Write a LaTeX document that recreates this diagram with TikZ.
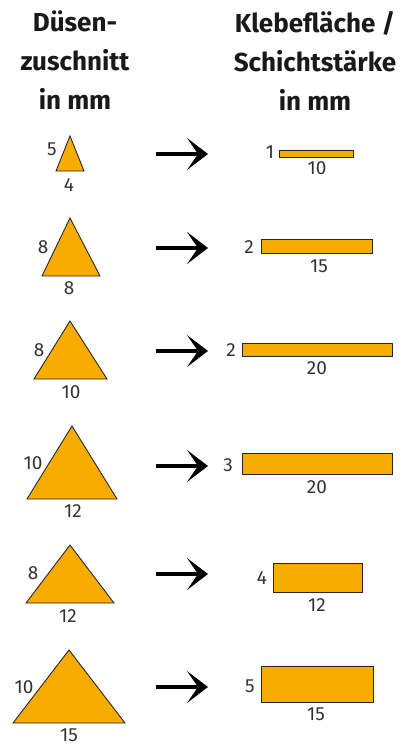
\documentclass[tikz,border=0pt]{standalone}
\usepackage{fontspec}
\setmainfont{Fira Sans}
\usetikzlibrary{arrows.meta}

\definecolor{glueorange}{RGB}{249,172,0}

\begin{document}
\begin{tikzpicture}[%
    x=1pt, y=-1pt,              % work in pixels of the sketch, y downwards
    ]

\tikzset{
  glue/.style={draw=black!85, fill=glueorange, line width=0.9pt, line join=miter},
  dim/.style={inner sep=0pt, text=black!80, font=\fontsize{19}{19}\selectfont},
  head/.style={inner sep=0pt, align=center, anchor=north, text=black!90,
               font=\bfseries\fontsize{26}{39}\selectfont},
  flow/.style={line width=3.5pt, -{Stealth[length=21pt, width=32pt, inset=11pt]}}
  };

\useasboundingbox (0,0) rectangle (409,745);

% HEADINGS
\node[head] (nozzle) at (75,11) { Düsen-\\zuschnitt\\in mm };
\node[head] (bead) at (315,11) { Klebefläche /\\Schichtstärke\\in mm };

% ROW 1
\draw[glue] (56,171) coordinate (t1l) -- (70,136) coordinate (t1a) -- (84,171) coordinate (t1r) -- cycle;
\node[dim] (t1s) at (52,149) {5};
\node[dim] (t1b) at (69,185) {4};
\coordinate (f1s) at (156,154); \coordinate (f1e) at (208,154);
\draw[flow] (f1s) -- (f1e);
\draw[glue] (279,150) coordinate (r1a) rectangle (353,157) coordinate (r1b);
\node[dim] (r1h) at (270,152) {1};
\node[dim] (r1w) at (317,168) {10};

% ROW 2
\draw[glue] (42,276) coordinate (t2l) -- (70,218) coordinate (t2a) -- (100,276) coordinate (t2r) -- cycle;
\node[dim] (t2s) at (43,247) {8};
\node[dim] (t2b) at (69,288) {8};
\coordinate (f2s) at (156,248); \coordinate (f2e) at (208,248);
\draw[flow] (f2s) -- (f2e);
\draw[glue] (261,239) coordinate (r2a) rectangle (372,253) coordinate (r2b);
\node[dim] (r2h) at (249,247) {2};
\node[dim] (r2w) at (319,266) {15};

% ROW 3
\draw[glue] (34,379) coordinate (t3l) -- (70,321) coordinate (t3a) -- (107,379) coordinate (t3r) -- cycle;
\node[dim] (t3s) at (39,350) {8};
\node[dim] (t3b) at (71,392) {10};
\coordinate (f3s) at (156,351); \coordinate (f3e) at (208,351);
\draw[flow] (f3s) -- (f3e);
\draw[glue] (242,343) coordinate (r3a) rectangle (392,356) coordinate (r3b);
\node[dim] (r3h) at (231,350) {2};
\node[dim] (r3w) at (317,368) {20};

% ROW 4
\draw[glue] (27,499) coordinate (t4l) -- (72,426) coordinate (t4a) -- (117,499) coordinate (t4r) -- cycle;
\node[dim] (t4s) at (33,463) {10};
\node[dim] (t4b) at (73,511) {12};
\coordinate (f4s) at (156,466); \coordinate (f4e) at (208,466);
\draw[flow] (f4s) -- (f4e);
\draw[glue] (242,453) coordinate (r4a) rectangle (392,474) coordinate (r4b);
\node[dim] (r4h) at (228,465) {3};
\node[dim] (r4w) at (317,487) {20};

% ROW 5
\draw[glue] (26,603) coordinate (t5l) -- (70,545) coordinate (t5a) -- (114,603) coordinate (t5r) -- cycle;
\node[dim] (t5s) at (33,573) {8};
\node[dim] (t5b) at (68,616) {12};
\coordinate (f5s) at (156,574); \coordinate (f5e) at (208,574);
\draw[flow] (f5s) -- (f5e);
\draw[glue] (273,563) coordinate (r5a) rectangle (362,592) coordinate (r5b);
\node[dim] (r5h) at (262,578) {4};
\node[dim] (r5w) at (317,605) {12};

% ROW 6
\draw[glue] (13,723) coordinate (t6l) -- (69,650) coordinate (t6a) -- (125,723) coordinate (t6r) -- cycle;
\node[dim] (t6s) at (24,687) {10};
\node[dim] (t6b) at (69,735) {15};
\coordinate (f6s) at (156,687); \coordinate (f6e) at (208,687);
\draw[flow] (f6s) -- (f6e);
\draw[glue] (261,666) coordinate (r6a) rectangle (373,702) coordinate (r6b);
\node[dim] (r6h) at (250,686) {5};
\node[dim] (r6w) at (316,714) {15};

\end{tikzpicture}
\end{document}
